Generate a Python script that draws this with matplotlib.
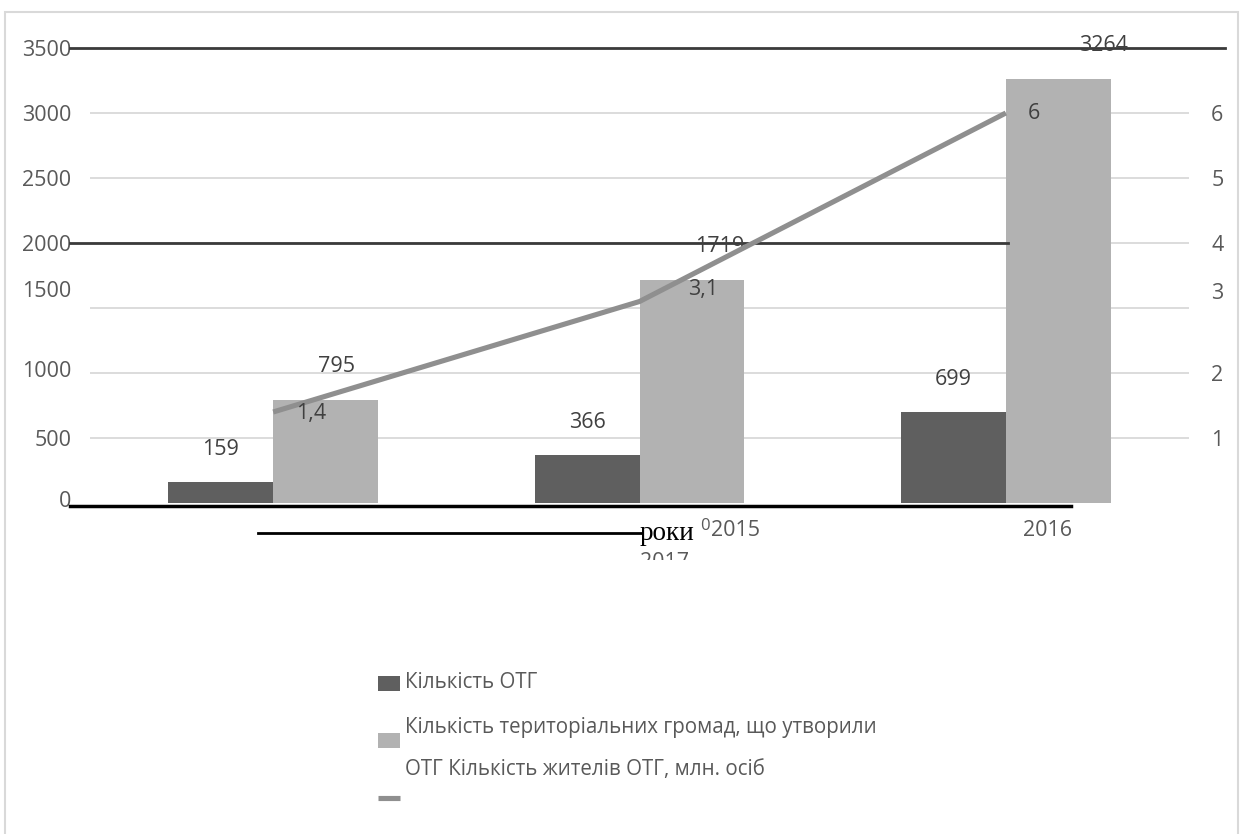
import numpy as np
import matplotlib
matplotlib.use("Agg")
import matplotlib.pyplot as plt
from matplotlib.patches import Patch, Rectangle
from matplotlib.lines import Line2D
from matplotlib.transforms import ScaledTranslation, Bbox

# ---------------- data ----------------
years = ["2015", "2016", "2017"]
otg_count = [159, 366, 699]                      # Кількість ОТГ
hromady_count = [795, 1719, 3264]                # Кількість територіальних громад, що утворили ОТГ
residents_mln = [1.4, 3.1, 6.0]                  # Кількість жителів ОТГ, млн. осіб
residents_labels = ["1,4", "3,1", "6"]
left_ticks = [0, 500, 1000, 1500, 2000, 2500, 3000, 3500]
right_ticks = [1, 2, 3, 4, 5, 6]
legend_labels = ["Кількість ОТГ",
                 "Кількість територіальних громад, що утворили",
                 "ОТГ Кількість жителів ОТГ, млн. осіб"]

# ---------------- style ----------------
W, H = 1241, 834
DARK = "#5f5f5f"
LIGHT = "#b2b2b2"
LINEC = "#8f8f8f"
GRID = "#d9d9d9"
TXT = "#595959"
LBL = "#404040"
FONT = "Open Sans"
FS = 15.5

plt.rcParams["font.family"] = [FONT, "DejaVu Sans"]

def fx(px):
    return px / W

def fy(py):
    return 1 - py / H

fig = plt.figure(figsize=(W / 100, H / 100), dpi=100)
fig.patch.set_facecolor("white")

# outer frame
fig.add_artist(Rectangle((fx(5), fy(900)), fx(1238) - fx(5), fy(12) - fy(900),
                         transform=fig.transFigure, fill=False,
                         edgecolor=GRID, lw=1.5))

ax = fig.add_axes([fx(90), fy(503), fx(1189) - fx(90), fy(48) - fy(503)])
ax2 = ax.twinx()

x = np.arange(len(years))
bw = 105 / 366.5
ax.bar(x - bw / 2, otg_count, bw, color=DARK, zorder=2)
ax.bar(x + bw / 2, hromady_count, bw, color=LIGHT, zorder=2)
ax.set_xlim(-0.5, len(years) - 0.5)
ax.set_ylim(0, 3500)
ax.set_xticks([])

ax.set_yticks(left_ticks)
ax.set_yticklabels([str(t) for t in left_ticks])
ax.yaxis.grid(True, color=GRID, lw=1.3, zorder=0)
ax.set_axisbelow(True)
for s in ax.spines.values():
    s.set_visible(False)
ax.tick_params(axis="y", length=0, pad=13.5, labelsize=FS, labelcolor=TXT)

ax2.plot(x, residents_mln, color=LINEC, lw=3.7, solid_capstyle="butt", zorder=3)
ax2.set_ylim(0, 7)
ax2.set_yticks(right_ticks)
ax2.set_yticklabels([str(t) for t in right_ticks])
for s in ax2.spines.values():
    s.set_visible(False)
ax2.tick_params(axis="y", length=0, pad=16, labelsize=FS, labelcolor=TXT)
ax2.set_xlim(-0.5, len(years) - 0.5)

# odd label offsets seen in reference
for tick, val in zip(ax.yaxis.get_major_ticks(), left_ticks):
    if val == 0:
        tick.gridline.set_visible(False)
    dy = {1500: 19, 0: 4, 1000: 4}.get(val, 0)
    if dy:
        tick.label1.set_transform(tick.label1.get_transform() +
                                  ScaledTranslation(0, dy / 100, fig.dpi_scale_trans))
for tick, val in zip(ax2.yaxis.get_major_ticks(), right_ticks):
    dy = {3: 17}.get(val, 0)
    if dy:
        tick.label2.set_transform(tick.label2.get_transform() +
                                  ScaledTranslation(0, dy / 100, fig.dpi_scale_trans))

# bar data labels
px2pt = 72 / 100
dark_dx = [0, 0, 0]
light_dx = [11, 28, 45]
for i, v in enumerate(otg_count):
    ax.annotate(str(v), (x[i] - bw / 2, v), xytext=(dark_dx[i] * px2pt, 33 * px2pt),
                textcoords="offset points", ha="center", va="center",
                fontsize=FS, color=LBL, zorder=5)
for i, v in enumerate(hromady_count):
    ax.annotate(str(v), (x[i] + bw / 2, v), xytext=(light_dx[i] * px2pt, 33 * px2pt),
                textcoords="offset points", ha="center", va="center",
                fontsize=FS, color=LBL, zorder=5)
line_off = [(38, -1), (64, 12), (28, 0)]
for i, v in enumerate(residents_mln):
    ax2.annotate(residents_labels[i], (x[i], v),
                 xytext=(line_off[i][0] * px2pt, line_off[i][1] * px2pt),
                 textcoords="offset points", ha="center", va="center",
                 fontsize=FS, color=LBL, zorder=5)

# stray black rules of the original rendering
x0, x1 = 90, 1189
def xf(px):
    return (px - x0) / (x1 - x0)
ax.axhline(3500, xmin=xf(70), xmax=xf(1225), color="#3a3a3a", lw=2, clip_on=False, zorder=4)
ax.axhline(2000, xmin=xf(70), xmax=xf(1008), color="#3a3a3a", lw=2, clip_on=False, zorder=4)
ax.axhline(-20, xmin=xf(70), xmax=xf(1071), color="black", lw=2.5, clip_on=False, zorder=4)
fig.add_artist(Line2D([fx(258), fx(642)], [fy(533), fy(533)], color="black", lw=2))

# category texts as they appear in the reference
fig.text(fx(640), fy(533), "роки", family="Liberation Serif", fontsize=19.5,
         color="black", ha="left", va="center")
fig.text(fx(700), fy(526), "0", fontsize=12, color=TXT, ha="left", va="center")
fig.text(fx(711), fy(531), years[0], fontsize=FS, color=TXT, ha="left", va="center")
fig.text(fx(1023), fy(531), years[1], fontsize=FS, color=TXT, ha="left", va="center")
t17 = fig.text(fx(640), fy(552), years[2], fontsize=FS, color=TXT, ha="left", va="top")
t17.set_clip_box(Bbox([[0, H - 560], [W, H]]))
t17.set_clip_on(True)

# legend (handles) + labels
handles = [Patch(facecolor=DARK, edgecolor="none"),
           Patch(facecolor=LIGHT, edgecolor="none"),
           Line2D([0], [0], color=LINEC, lw=3.7, solid_capstyle="butt")]
leg = fig.legend(handles, [" ", " ", " "], loc="upper left",
                 bbox_to_anchor=(fx(378), fy(675)), frameon=False,
                 fontsize=FS, handlelength=22 / 21.5, handleheight=14 / 21.5,
                 handletextpad=0.1, borderpad=0, borderaxespad=0,
                 labelspacing=1.68)
fig.text(fx(405), fy(683), legend_labels[0], fontsize=14.8, color=TXT, ha="left", va="center")
fig.text(fx(405), fy(727), legend_labels[1], fontsize=14.8, color=TXT, ha="left", va="center")
fig.text(fx(405), fy(769), legend_labels[2], fontsize=14.8, color=TXT, ha="left", va="center")

fig.savefig("out.png", dpi=100, facecolor="white")
